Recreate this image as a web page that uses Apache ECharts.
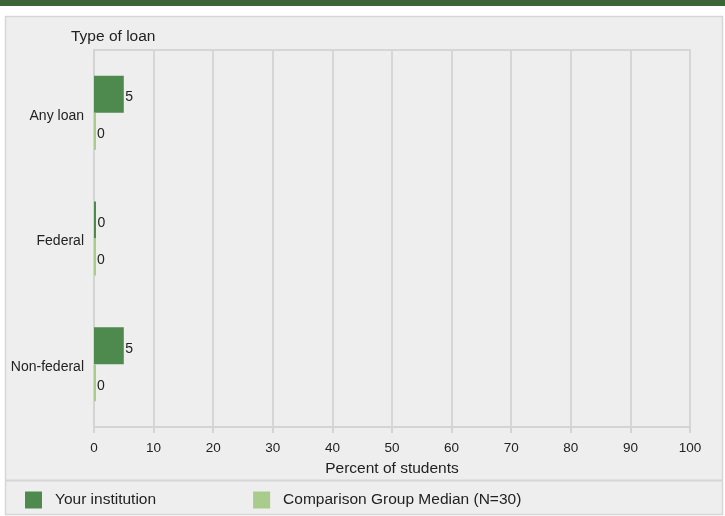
<!DOCTYPE html>
<html>
<head>
<meta charset="utf-8">
<script src="https://cdn.jsdelivr.net/npm/echarts@6/dist/echarts.min.js"></script>
<style>
html,body{margin:0;padding:0;background:#fff;}
#c{width:725px;height:516px;}
</style>
</head>
<body>
<div id="c"></div>
<script>
const categories = ['Any loan', 'Federal', 'Non-federal'];
const yourInstitution = [5, 0, 5];
const comparisonMedian = [0, 0, 0];
const seriesNames = ['Your institution', 'Comparison Group Median (N=30)'];
const xAxisTitle = 'Percent of students';
const yAxisTitle = 'Type of loan';

const FONT = '"Liberation Sans", Arial, sans-serif';
const chart = echarts.init(document.getElementById('c'), null, {renderer: 'canvas'});
chart.setOption({
  animation: false,
  textStyle: {fontFamily: FONT},
  graphic: [
    {type: 'rect', z: -10, shape: {x: 0, y: 0, width: 725, height: 6}, style: {fill: '#3d6636'}},
    {type: 'rect', z: -10, shape: {x: 5.5, y: 16.5, width: 717, height: 498}, style: {fill: '#eeeeee', stroke: '#d6d6d6', lineWidth: 1.5}},
    {type: 'rect', z: -9, shape: {x: 6, y: 479.5, width: 716, height: 2}, style: {fill: '#d6d6d6'}}
  ],
  title: {
    text: yAxisTitle, left: 71, top: 29, padding: 0,
    textStyle: {fontSize: 15.5, fontWeight: 'normal', color: '#222', fontFamily: FONT}
  },
  legend: {
    left: 25, top: 491.5, padding: 0, itemWidth: 17, itemHeight: 17, itemGap: 97,
    icon: 'rect',
    textStyle: {fontSize: 15.5, color: '#222', fontFamily: FONT, padding: [0, 0, 0, 8]},
    data: seriesNames
  },
  grid: {
    left: 94, right: 35, top: 50, bottom: 89,
    show: true, borderColor: '#d6d6d6', borderWidth: 2, backgroundColor: 'transparent'
  },
  xAxis: {
    type: 'value', min: 0, max: 100, interval: 10,
    name: xAxisTitle, nameLocation: 'middle', nameGap: 34,
    nameTextStyle: {fontSize: 15.5, color: '#222', fontFamily: FONT},
    axisLine: {show: true, lineStyle: {color: '#d4d4d4', width: 2}},
    axisTick: {show: true, length: 6, lineStyle: {color: '#d4d4d4', width: 2}},
    axisLabel: {fontSize: 13.5, color: '#222', margin: 14, fontFamily: FONT},
    splitLine: {show: true, lineStyle: {color: '#d6d6d6', width: 2}}
  },
  yAxis: {
    type: 'category', data: categories, inverse: true,
    axisLine: {show: true, lineStyle: {color: '#d4d4d4', width: 2}},
    axisTick: {show: false},
    axisLabel: {
      margin: 10, formatter: '{a|{value}}',
      rich: {a: {fontSize: 14, color: '#222', fontFamily: FONT, padding: [6, 0, 0, 0]}}
    }
  },
  series: [
    {
      name: seriesNames[0], type: 'bar', data: yourInstitution,
      barWidth: 37, barGap: '0%', barMinHeight: 2,
      itemStyle: {color: '#4e8a4e'},
      label: {show: true, position: 'right', distance: 1.5, offset: [0, 3], fontSize: 14, color: '#222', fontFamily: FONT}
    },
    {
      name: seriesNames[1], type: 'bar', data: comparisonMedian,
      barWidth: 37, barGap: '0%', barMinHeight: 2,
      itemStyle: {color: '#a9cc8c'},
      label: {show: true, position: 'right', distance: 1, offset: [0, 3], fontSize: 14, color: '#222', fontFamily: FONT}
    }
  ]
});
</script>
</body>
</html>
